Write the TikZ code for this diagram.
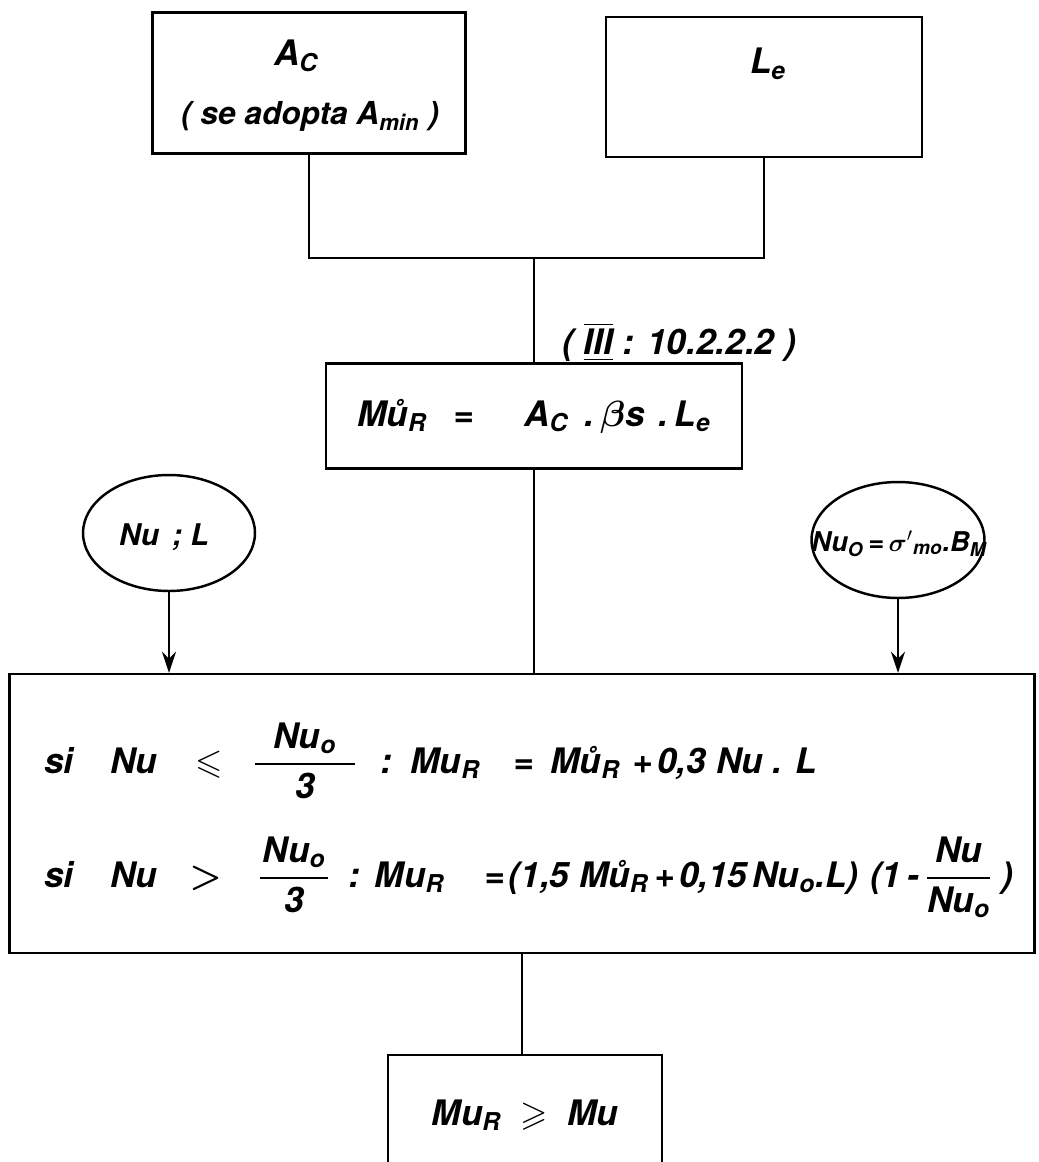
\documentclass[tikz,border=0pt]{standalone}
\usepackage{amsmath, amssymb}
\usepackage{fontspec}
\setmainfont{TeX Gyre Heros}
\usetikzlibrary{arrows.meta, positioning, shapes.geometric}

\newlength{\px}
\setlength{\px}{0.02cm}
\newcommand{\MuR}{Mu\textsubscript{R}}
\newcommand{\MoR}{M\r{u}\textsubscript{R}}
\newcommand{\Nuo}{Nu\textsubscript{o}}
\newcommand{\fr}[3]{$\dfrac{\makebox[#1\px]{#2}}{\text{#3}}$}

\begin{document}
\begin{tikzpicture}[x=0.02cm, y=-0.02cm, line width=1.4pt,
    box/.style={draw, rectangle, inner sep=0pt},
    oval/.style={draw, ellipse, inner sep=0pt},
    txt/.style={font=\fontsize{20}{24}\selectfont\bfseries\itshape},
    small/.style={font=\fontsize{18}{22}\selectfont\bfseries\itshape},
    tiny/.style={font=\fontsize{15.5}{18}\selectfont\bfseries\itshape},
    arr/.style={-{Stealth[length=12pt, width=8pt, inset=4pt]}}]
    \clip (0,0) rectangle (1038,1162);

    % Data
    \node[box, minimum width=6.26cm, minimum height=2.82cm] (ac) at (309,83) {};
    \node[txt] (actxt) at (296,56) {A\textsubscript{C}};
    \node[small] (amin) at (310,116) {( se adopta A\textsubscript{min} )};
    \node[box, minimum width=6.32cm, minimum height=2.8cm] (le) at (764,87) {};
    \node[txt] (letxt) at (768,64) {L\textsubscript{e}};

    % Junction
    \coordinate (j) at (534,258);
    \draw (ac.south) |- (j) -| (le.south);

    % Plastic moment
    \node[box, txt, minimum width=8.32cm, minimum height=2.1cm] (mu) at (534,416)
        {\MoR\hspace{27\px}=\hspace{50\px}A\textsubscript{C}\hspace{16\px}.\hspace{6\px}$\boldsymbol{\beta}$s\hspace{14\px}.\hspace{6\px}L\textsubscript{e}};
    \node[txt, anchor=west] (ref) at (555,342)
        {( $\overline{\underline{\text{III}}}$ : 10.2.2.2 )};
    \draw (j) -- (mu);

    % Loads
    \node[oval, minimum width=3.44cm, minimum height=2.32cm] (nl) at (169,533) {};
    \node[font=\fontsize{17}{20}\selectfont\bfseries\itshape] (nltxt) at (164,537) {Nu \,; L};
    \node[oval, minimum width=3.46cm, minimum height=2.32cm] (nr) at (898,540) {};
    \node[tiny] (nrtxt) at (899,544)
        {Nu\textsubscript{O}\,=\,$\boldsymbol{\sigma}'$\textsubscript{mo}.B\textsubscript{M}};

    % Conditions
    \node[box, minimum width=20.5cm, minimum height=5.58cm] (big) at (522,813.5) {};
    \draw[arr] (nl) -- (nl |- big.north);
    \draw[arr] (nr) -- (nr |- big.north);
    \draw (mu) -- (mu |- big.north);
    \node[txt, anchor=base west] (ln1) at (37,773)
        {si\hspace{37\px}Nu\hspace{38\px}$\leqslant$\hspace{30\px}\fr{100}{\Nuo}{3}\hspace{24\px}:\hspace{18\px}\MuR\hspace{33\px}=\hspace{17\px}\MoR\hspace{13\px}+\hspace{4\px}0,3 Nu . L};
    \node[txt, anchor=base west] (ln2) at (37,887)
        {si\hspace{37\px}Nu\hspace{32\px}$\boldsymbol{>}$\hspace{36\px}\fr{68}{\Nuo}{3}\hspace{18\px}:\hspace{15\px}\MuR\hspace{40\px}=\hspace{4\px}(1,5 \MoR\hspace{6\px}+\hspace{4\px}0,15\hspace{5\px}\Nuo.L)\hspace{12\px}(1\,-\hspace{6\px}\fr{54}{Nu}{\Nuo}\hspace{9\px})};

    % Check
    \node[box, txt, minimum width=5.48cm, minimum height=2.4cm] (res) at (525,1115)
        {\MuR\ \ $\geqslant$ \ Mu};
    \draw (big.south) -- (big.south |- res.north);
\end{tikzpicture}
\end{document}
